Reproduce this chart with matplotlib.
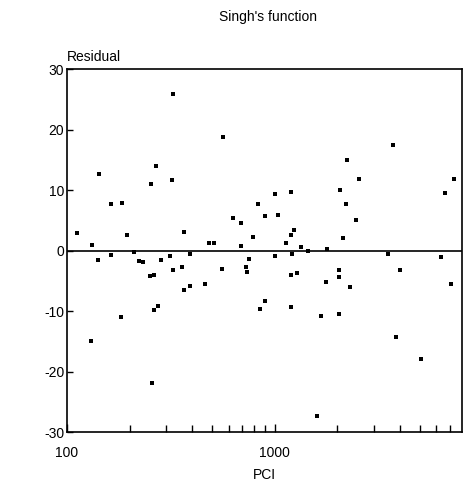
import matplotlib
matplotlib.use("Agg")
import matplotlib.pyplot as plt
from matplotlib.ticker import FixedLocator, NullFormatter

# PCI vs residual
pci = [112, 132, 143, 163, 184, 194, 255, 267, 319, 323,
       368, 482, 513, 564, 632, 686, 689, 789, 836, 1003,
       1196, 895, 1044, 1236, 1205, 1130, 1335, 1455, 1797, 2132,
       2075, 2216, 2460, 2235, 2543, 3738, 7350, 6600,
       141, 162, 211, 222, 232, 284, 315, 392, 325, 357,
       252, 262, 367, 390, 463, 555, 752, 725, 739, 130,
       181, 262, 273, 257, 848, 894, 1007, 1210, 3535, 6320,
       1193, 1284, 2053, 2047, 1776, 2300, 4034, 7100, 1200, 1673,
       2049, 3840, 5045, 1604]
residual = [2.9, 0.9, 12.7, 7.7, 7.9, 2.5, 11.0, 14.0, 11.7, 25.9,
            3.1, 1.2, 1.2, 18.7, 5.4, 4.6, 0.8, 2.3, 7.7, 9.4,
            9.6, 5.7, 5.9, 3.4, 2.6, 1.2, 0.5, -0.1, 0.3, 2.1,
            10.0, 7.7, 5.1, 14.9, 11.8, 17.5, 11.8, 9.5,
            -1.5, -0.7, -0.2, -1.7, -1.9, -1.5, -0.9, -0.6, -3.3, -2.8,
            -4.2, -4.1, -6.6, -5.8, -5.6, -3.0, -1.4, -2.8, -3.6, -14.9,
            -11.0, -9.9, -9.1, -21.9, -9.6, -8.3, -0.9, -0.6, -0.6, -1.0,
            -4.0, -3.8, -3.3, -4.4, -5.2, -6.1, -3.3, -5.5, -9.4, -10.8,
            -10.5, -14.3, -18.0, -27.4]

y_ticks = [-30, -20, -10, 0, 10, 20, 30]
x_major = [100, 1000]
x_minor = [200, 300, 400, 500, 600, 700, 800, 900,
           2000, 3000, 4000, 5000, 6000, 7000]

plt.rcParams["font.family"] = ["Liberation Sans Narrow", "Liberation Sans", "DejaVu Sans"]

fig = plt.figure(figsize=(4.72, 4.94), dpi=100)
ax = fig.add_axes([0.142, 0.1255, 0.837, 0.7348])

ax.scatter(pci, residual, marker="s", s=8, color="black", linewidths=0)
ax.axhline(0, color="black", linewidth=1.2)

ax.set_xscale("log")
ax.set_xlim(100, 8000)
ax.set_ylim(-30, 30)

ax.xaxis.set_major_locator(FixedLocator(x_major))
ax.xaxis.set_minor_locator(FixedLocator(x_minor))
ax.xaxis.set_minor_formatter(NullFormatter())
ax.set_xticklabels(["100", "1000"])
ax.set_yticks(y_ticks)
ax.set_yticklabels([str(v) for v in y_ticks])

ax.tick_params(which="both", direction="in", labelsize=10, width=1)
ax.tick_params(which="major", length=6)
ax.tick_params(which="minor", length=5)
ax.tick_params(axis="x", pad=10)
ax.tick_params(axis="y", pad=2, length=4)
for sp in ax.spines.values():
    sp.set_linewidth(1.2)

ax.set_xlabel("PCI", fontsize=10, labelpad=6)
ax.text(0.0, 1.015, "Residual", transform=ax.transAxes, fontsize=10,
        ha="left", va="bottom")
fig.text(0.568, 0.965, "Singh's function", fontsize=10, ha="center", va="center")

fig.savefig("out.png", dpi=100)
